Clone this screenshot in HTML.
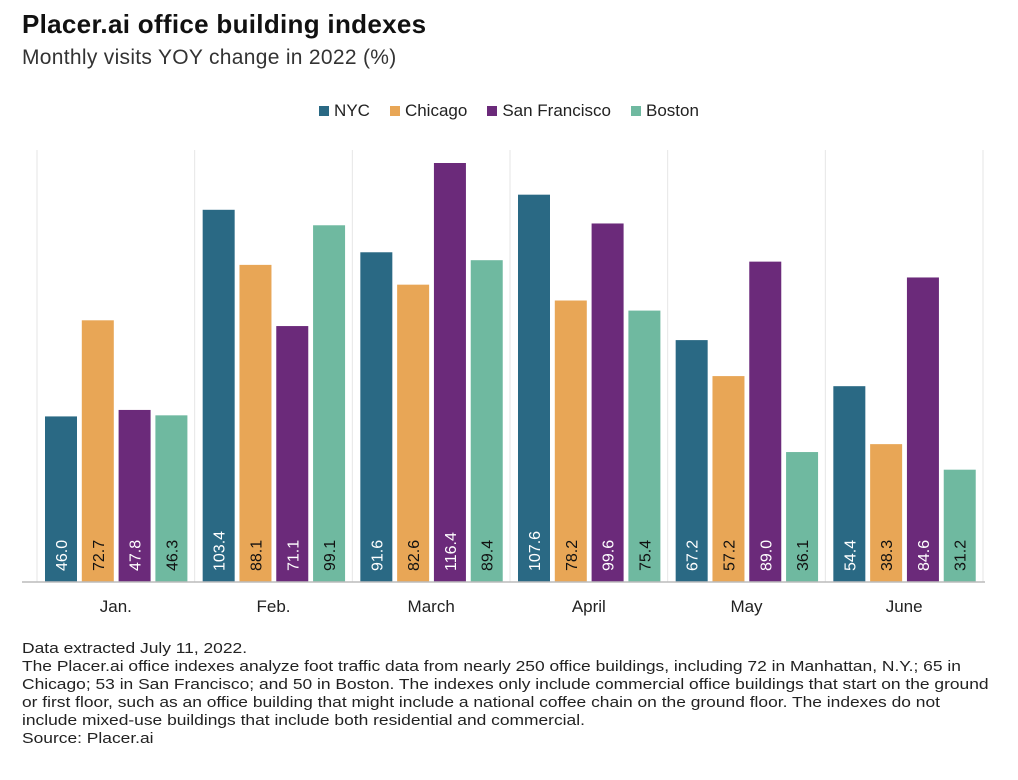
<!DOCTYPE html>
<html><head><meta charset="utf-8"><style>
body{margin:0;background:#fff;font-family:"Liberation Sans",sans-serif;color:#222;}
#wrap{position:relative;width:1018px;height:780px;overflow:hidden;}
.title{position:absolute;left:22px;top:9px;font-size:26px;font-weight:bold;color:#111;letter-spacing:0.3px;}
.sub{position:absolute;left:22px;top:46px;font-size:21px;color:#333;letter-spacing:0.3px;}
.legend{position:absolute;top:101px;left:0;width:1018px;text-align:center;font-size:17px;}
.legend span{margin:0 10px;}
.legend i{display:inline-block;width:10px;height:10px;margin-right:5px;vertical-align:0px;}
.foot{position:absolute;left:22px;top:640px;font-size:14.5px;line-height:18px;color:#222;white-space:nowrap;transform:scaleX(1.2);transform-origin:0 0;}
</style></head><body><div id="wrap">
<div class="title">Placer.ai office building indexes</div>
<div class="sub">Monthly visits YOY change in 2022 (%)</div>
<div class="legend">
<span><i style="background:#2a6984"></i>NYC</span><span><i style="background:#e8a656"></i>Chicago</span><span><i style="background:#6b2a7a"></i>San Francisco</span><span><i style="background:#6fb9a0"></i>Boston</span>
</div>
<svg id="svg" width="1018" height="780" style="position:absolute;left:0;top:0"></svg>
<div class="foot">Data extracted July 11, 2022.<br>The Placer.ai office indexes analyze foot traffic data from nearly 250 office buildings, including 72 in Manhattan, N.Y.; 65 in<br>Chicago; 53 in San Francisco; and 50 in Boston. The indexes only include commercial office buildings that start on the ground<br>or first floor, such as an office building that might include a national coffee chain on the ground floor. The indexes do not<br>include mixed-use buildings that include both residential and commercial.<br>Source: Placer.ai</div>
</div>
<script>
const categories=["Jan.","Feb.","March","April","May","June"];
const seriesNames=["NYC","Chicago","San Francisco","Boston"];
const nyc=[46.0,103.4,91.6,107.6,67.2,54.4];
const chicago=[72.7,88.1,82.6,78.2,57.2,38.3];
const sf=[47.8,71.1,116.4,99.6,89.0,84.6];
const boston=[46.3,99.1,89.4,75.4,36.1,31.2];
const series=[nyc,chicago,sf,boston];
const colors=["#2a6984","#e8a656","#6b2a7a","#6fb9a0"];
const textColors=["#fff","#111","#fff","#111"];
const svg=document.getElementById('svg');const NS="http://www.w3.org/2000/svg";
const x0=37,x1=983,base=582,top0=163,yMax=116.4;
const gw=(x1-x0)/categories.length;
const y=v=>base-(v/yMax)*(base-top0);
function mk(t,a){const e=document.createElementNS(NS,t);for(const k in a)e.setAttribute(k,a[k]);svg.appendChild(e);return e;}
for(let i=0;i<=categories.length;i++){const g=mk('line',{x1:x0+i*gw,x2:x0+i*gw,y1:150,y2:base,stroke:'#e6e6e6','stroke-width':1});

}
categories.forEach((c,i)=>{
 series.forEach((s,j)=>{
  const bx=x0+i*gw+8+j*36.8,by=y(s[i]);
  const r=mk('rect',{x:bx,y:by,width:32,height:base-by,fill:colors[j]});
  
  
  const t=mk('text',{transform:`translate(${bx+22},571) rotate(-90)`,fill:textColors[j],'font-size':16,'font-family':'Liberation Sans, sans-serif'});
  t.textContent=s[i].toFixed(1);
  
  
 });
 const l=mk('text',{x:x0+i*gw+gw/2,y:612,'text-anchor':'middle','font-size':17,fill:'#222','font-family':'Liberation Sans, sans-serif'});
 l.textContent=c;
 
 
});
const ax=mk('line',{x1:x0-15,x2:x1+2,y1:base,y2:base,stroke:'#bbb','stroke-width':1.5});


</script></body></html>
